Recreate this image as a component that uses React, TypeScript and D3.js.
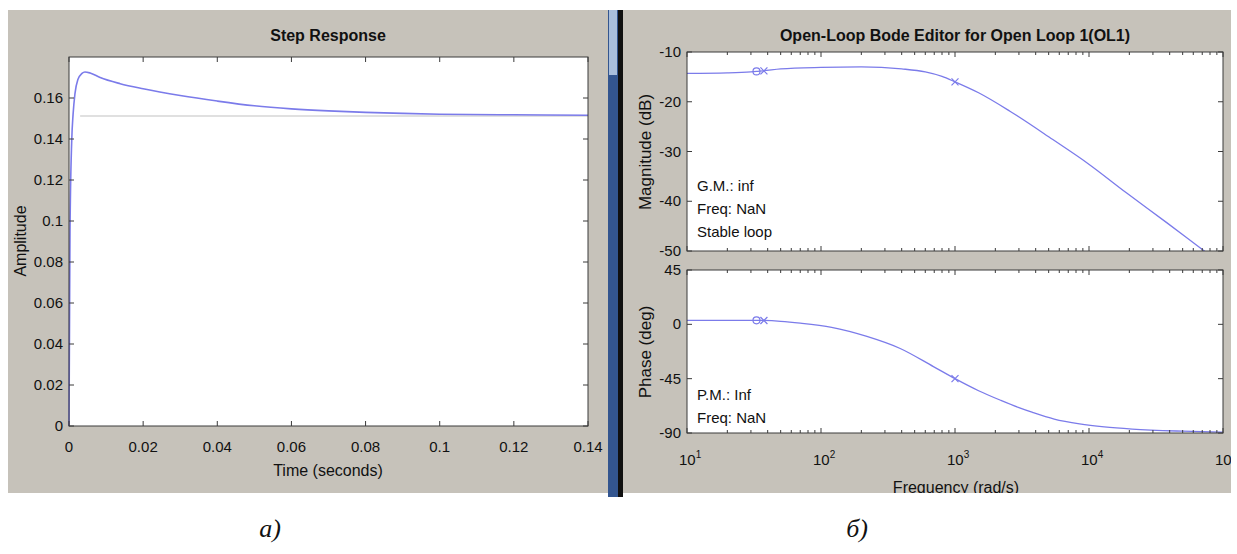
import React, { useEffect, useRef } from "react";
import * as d3 from "d3";

// step response
const stepTime = [0, 0.00014, 0.00027, 0.00073, 0.0011, 0.0016, 0.0024, 0.0035, 0.0043, 0.0057, 0.0084, 0.0138, 0.02, 0.03, 0.04, 0.05, 0.06, 0.07, 0.08, 0.09, 0.1, 0.12, 0.14];
const stepAmp = [0, 0.05, 0.095, 0.139, 0.152, 0.162, 0.169, 0.172, 0.1727, 0.1722, 0.170, 0.167, 0.1645, 0.1612, 0.1585, 0.1562, 0.1547, 0.1537, 0.153, 0.1525, 0.1521, 0.1518, 0.1516];
const stepFinal = 0.1512;
const timeTicks = [0, 0.02, 0.04, 0.06, 0.08, 0.1, 0.12, 0.14];
const ampTicks = [0, 0.02, 0.04, 0.06, 0.08, 0.1, 0.12, 0.14, 0.16];

// open-loop bode
const magFreq = [10, 20, 30, 33, 37, 50, 100, 200, 400, 600, 800, 1000, 1500, 2570, 5370, 9800, 19000, 38000, 64000, 75000];
const magDb = [-14.3, -14.2, -14.0, -13.9, -13.8, -13.4, -13.1, -13.0, -13.4, -14.0, -14.9, -16.0, -18.2, -21.9, -27.6, -32.4, -38.3, -44.3, -48.9, -50.3];
const phaseFreq = [10, 20, 33, 37, 50, 70, 120, 220, 390, 690, 1000, 1500, 2200, 3000, 3800, 5500, 8500, 13000, 21000, 50000, 100000];
const phaseDeg = [3.3, 3.3, 3.3, 3.2, 2.5, 1.0, -2.5, -10, -20, -35, -45, -55, -63, -69, -73, -78.5, -82.5, -85, -86.8, -88.5, -89.3];
const zeroFreq = [33];
const zeroMag = [-13.9];
const zeroPhase = [3.3];
const poleFreq = [37.5, 1000];
const poleMag = [-13.8, -16.0];
const polePhase = [3.2, -45];
const magTicks = [-10, -20, -30, -40, -50];
const phaseTicks = [45, 0, -45, -90];
const freqExp = [1, 2, 3, 4, 5];

const GRAY = "#c6c2ba";
const LINE = "#7b7bea";
const AXIS = "#3a3a3a";
const FONT = "Liberation Sans, Arial, sans-serif";

const App = () => {
  const ref = useRef(null);

  useEffect(() => {
    const svg = d3.select(ref.current);
    svg.selectAll("*").remove();

    // panels
    svg.append("rect").attr("x", 8).attr("y", 10).attr("width", 600).attr("height", 483).attr("fill", GRAY);
    svg.append("rect").attr("x", 623).attr("y", 10).attr("width", 608).attr("height", 483).attr("fill", GRAY);
    // divider bar
    svg.append("rect").attr("x", 608).attr("y", 10).attr("width", 10).attr("height", 487).attr("fill", "#33558f");
    svg.append("rect").attr("x", 609).attr("y", 10).attr("width", 8).attr("height", 65).attr("fill", "#a9bedb");
    svg.append("rect").attr("x", 618).attr("y", 10).attr("width", 5).attr("height", 487).attr("fill", "#101010");

    const txt = (g, x, y, s, size, opts = {}) =>
      g.append("text").attr("x", x).attr("y", y).text(s)
        .attr("font-family", FONT).attr("font-size", size).attr("fill", "#111")
        .attr("text-anchor", opts.anchor || "middle")
        .attr("font-weight", opts.bold ? "bold" : null);

    // ---------- step response ----------
    const sx = d3.scaleLinear().domain([0, 0.14]).range([69, 588]);
    const sy = d3.scaleLinear().domain([0, 0.18]).range([426, 57]);

    const left = svg.append("g");
    left.append("rect").attr("x", 69).attr("y", 57).attr("width", 519).attr("height", 369).attr("fill", "#fff");

    left.append("line").attr("x1", sx(0.003)).attr("x2", sx(0.14))
      .attr("y1", sy(stepFinal)).attr("y2", sy(stepFinal))
      .attr("stroke", "#d6d6d6").attr("stroke-width", 1.5);

    const stepLine = d3.line().x((d, i) => sx(stepTime[i])).y(d => sy(d)).curve(d3.curveMonotoneX);
    left.append("path").datum(stepAmp).attr("d", stepLine)
      .attr("fill", "none").attr("stroke", LINE).attr("stroke-width", 1.6);

    timeTicks.forEach(t => {
      left.append("line").attr("x1", sx(t)).attr("x2", sx(t)).attr("y1", 426).attr("y2", 421).attr("stroke", AXIS);
      left.append("line").attr("x1", sx(t)).attr("x2", sx(t)).attr("y1", 57).attr("y2", 62).attr("stroke", AXIS);
      txt(left, sx(t), 452, String(t), 15);
    });
    ampTicks.forEach(a => {
      left.append("line").attr("x1", 69).attr("x2", 74).attr("y1", sy(a)).attr("y2", sy(a)).attr("stroke", AXIS);
      left.append("line").attr("x1", 588).attr("x2", 583).attr("y1", sy(a)).attr("y2", sy(a)).attr("stroke", AXIS);
      txt(left, 63, sy(a) + 5, String(a), 15, { anchor: "end" });
    });
    left.append("rect").attr("x", 69).attr("y", 57).attr("width", 519).attr("height", 369)
      .attr("fill", "none").attr("stroke", AXIS);

    txt(left, 328, 41, "Step Response", 16, { bold: true });
    txt(left, 328, 476, "Time (seconds)", 16);
    txt(left, 0, 0, "Amplitude", 16).attr("transform", "translate(26,241) rotate(-90)");

    // ---------- bode ----------
    const right = svg.append("g");
    svg.append("clipPath").attr("id", "panelClip").append("rect")
      .attr("x", 623).attr("y", 10).attr("width", 608).attr("height", 483);
    right.attr("clip-path", "url(#panelClip)");

    const fx = d3.scaleLog().domain([10, 1e5]).range([687, 1223]);
    const ym = d3.scaleLinear().domain([-50, -10]).range([251, 52]);
    const yp = d3.scaleLinear().domain([-90, 45]).range([433, 270]);

    const minor = [];
    for (let e = 1; e < 5; e++) for (let k = 2; k < 10; k++) minor.push(k * Math.pow(10, e));
    const decades = freqExp.map(e => Math.pow(10, e));

    const panel = (y0, y1, yScale, ticks, clipId, freqs, vals, zv, pv) => {
      right.append("rect").attr("x", 687).attr("y", y0).attr("width", 536).attr("height", y1 - y0).attr("fill", "#fff");
      svg.append("clipPath").attr("id", clipId).append("rect")
        .attr("x", 687).attr("y", y0).attr("width", 536).attr("height", y1 - y0);
      const g = right.append("g").attr("clip-path", `url(#${clipId})`);
      const ln = d3.line().x((d, i) => fx(freqs[i])).y(d => yScale(d)).curve(d3.curveMonotoneX);
      g.append("path").datum(vals).attr("d", ln).attr("fill", "none").attr("stroke", LINE).attr("stroke-width", 1.3);
      zeroFreq.forEach((f, i) => {
        g.append("circle").attr("cx", fx(f)).attr("cy", yScale(zv[i])).attr("r", 3.5)
          .attr("fill", "none").attr("stroke", LINE).attr("stroke-width", 1.2);
      });
      poleFreq.forEach((f, i) => {
        const cx = fx(f), cy = yScale(pv[i]);
        g.append("path").attr("d", `M${cx - 3.5},${cy - 3.5}L${cx + 3.5},${cy + 3.5}M${cx - 3.5},${cy + 3.5}L${cx + 3.5},${cy - 3.5}`)
          .attr("stroke", LINE).attr("stroke-width", 1.2);
      });
      decades.forEach(f => {
        right.append("line").attr("x1", fx(f)).attr("x2", fx(f)).attr("y1", y1).attr("y2", y1 - 5).attr("stroke", AXIS);
        right.append("line").attr("x1", fx(f)).attr("x2", fx(f)).attr("y1", y0).attr("y2", y0 + 5).attr("stroke", AXIS);
      });
      minor.forEach(f => {
        right.append("line").attr("x1", fx(f)).attr("x2", fx(f)).attr("y1", y1).attr("y2", y1 - 3).attr("stroke", AXIS);
        right.append("line").attr("x1", fx(f)).attr("x2", fx(f)).attr("y1", y0).attr("y2", y0 + 3).attr("stroke", AXIS);
      });
      ticks.forEach(t => {
        right.append("line").attr("x1", 687).attr("x2", 692).attr("y1", yScale(t)).attr("y2", yScale(t)).attr("stroke", AXIS);
        right.append("line").attr("x1", 1223).attr("x2", 1218).attr("y1", yScale(t)).attr("y2", yScale(t)).attr("stroke", AXIS);
        txt(right, 681, yScale(t) + 5, String(t), 15, { anchor: "end" });
      });
      right.append("rect").attr("x", 687).attr("y", y0).attr("width", 536).attr("height", y1 - y0)
        .attr("fill", "none").attr("stroke", AXIS);
    };

    panel(52, 251, ym, magTicks, "magClip", magFreq, magDb, zeroMag, poleMag);
    panel(270, 433, yp, phaseTicks, "phClip", phaseFreq, phaseDeg, zeroPhase, polePhase);

    // decade labels: "10" centred on the tick, exponent trailing
    freqExp.forEach(e => {
      const t = right.append("text").attr("x", fx(Math.pow(10, e)) - 8).attr("y", 465)
        .attr("font-family", FONT).attr("font-size", 15).attr("fill", "#111").attr("text-anchor", "start");
      t.append("tspan").text("10");
      t.append("tspan").text(String(e)).attr("font-size", 10).attr("dy", -7);
    });

    txt(right, 955, 41, "Open-Loop Bode Editor for Open Loop 1(OL1)", 16, { bold: true });
    txt(right, 956, 493, "Frequency (rad/s)", 16);
    txt(right, 0, 0, "Magnitude (dB)", 17).attr("transform", "translate(651,152) rotate(-90)");
    txt(right, 0, 0, "Phase (deg)", 17).attr("transform", "translate(651,352) rotate(-90)");

    ["G.M.: inf", "Freq: NaN", "Stable loop"].forEach((s, i) => txt(right, 697, 191 + i * 23, s, 15, { anchor: "start" }));
    ["P.M.: Inf", "Freq: NaN"].forEach((s, i) => txt(right, 697, 400 + i * 23, s, 15, { anchor: "start" }));

    // panel captions
    const cap = (x, s) => svg.append("text").attr("x", x).attr("y", 537).text(s)
      .attr("font-family", "Liberation Serif, serif").attr("font-style", "italic")
      .attr("font-size", 26).attr("fill", "#111").attr("text-anchor", "middle");
    cap(270, "а)");
    cap(857, "б)");
  }, []);

  return (
    <svg ref={ref} width={1237} height={554}
      style={{ position: "absolute", left: 0, top: 0, background: "#fff" }} />
  );
};

export default App;
